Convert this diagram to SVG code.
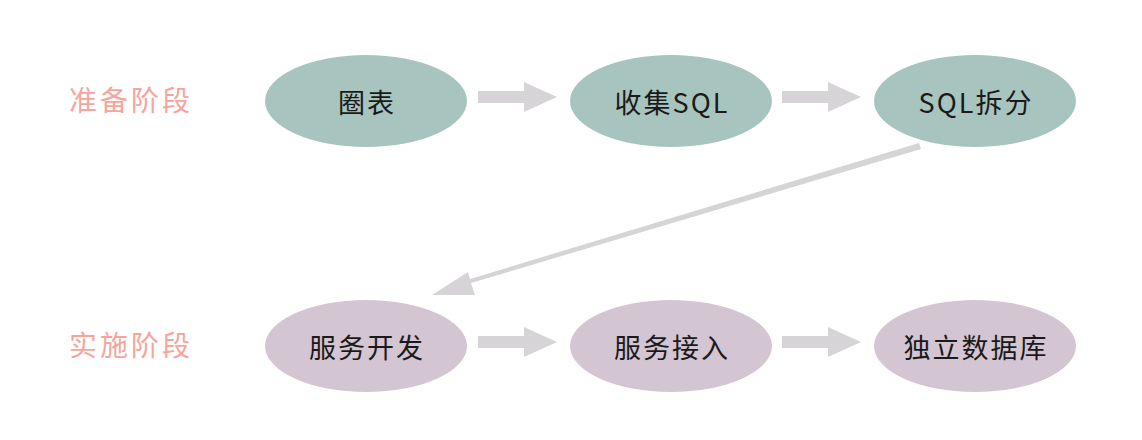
<svg xmlns="http://www.w3.org/2000/svg" width="1142" height="440" viewBox="0 0 1142 440">
<style>
.stage{font-family:"Noto Sans CJK SC","Noto Sans",sans-serif;font-size:28px;fill:#f5a59c;letter-spacing:3px;}
.lbl{font-family:"Noto Sans CJK SC","Noto Sans",sans-serif;font-size:27px;fill:#1a1a1a;text-anchor:middle;dominant-baseline:central;letter-spacing:2px;}
.prep{fill:#a8c4be;}
.impl{fill:#d3c5d2;}
.arr{fill:#d6d4d6;}
</style>
<rect width="1142" height="440" fill="#ffffff"/>
<text class="stage" x="69" y="111">准备阶段</text>
<text class="stage" x="69" y="356">实施阶段</text>
<g id="n1"><ellipse class="prep" cx="366" cy="101" rx="101" ry="46"/><text class="lbl" x="367" y="101">圈表</text></g>
<g id="n2"><ellipse class="prep" cx="671" cy="101" rx="101" ry="46"/><text class="lbl" x="672" y="101">收集SQL</text></g>
<g id="n3"><ellipse class="prep" cx="975" cy="101" rx="101" ry="46"/><text class="lbl" x="976" y="101">SQL拆分</text></g>
<g id="n4"><ellipse class="impl" cx="366" cy="346" rx="101" ry="46"/><text class="lbl" x="367" y="346">服务开发</text></g>
<g id="n5"><ellipse class="impl" cx="671" cy="346" rx="101" ry="46"/><text class="lbl" x="672" y="346">服务接入</text></g>
<g id="n6"><ellipse class="impl" cx="975" cy="346" rx="101" ry="46"/><text class="lbl" x="976" y="346">独立数据库</text></g>
<g id="connectors">
<polygon class="arr" points="478,91 524,91 524,82 557,97 524,112 524,103 478,103"/>
<polygon class="arr" points="782,91 828,91 828,82 861,97 828,112 828,103 782,103"/>
<polygon class="arr" points="478,336 524,336 524,327 557,342 524,357 524,348 478,348"/>
<polygon class="arr" points="782,336 828,336 828,327 861,342 828,357 828,348 782,348"/>
<polygon class="arr" points="919,143 921,149 471,283 475,295 432,295 468,272 470,279"/>
</g>
</svg>
